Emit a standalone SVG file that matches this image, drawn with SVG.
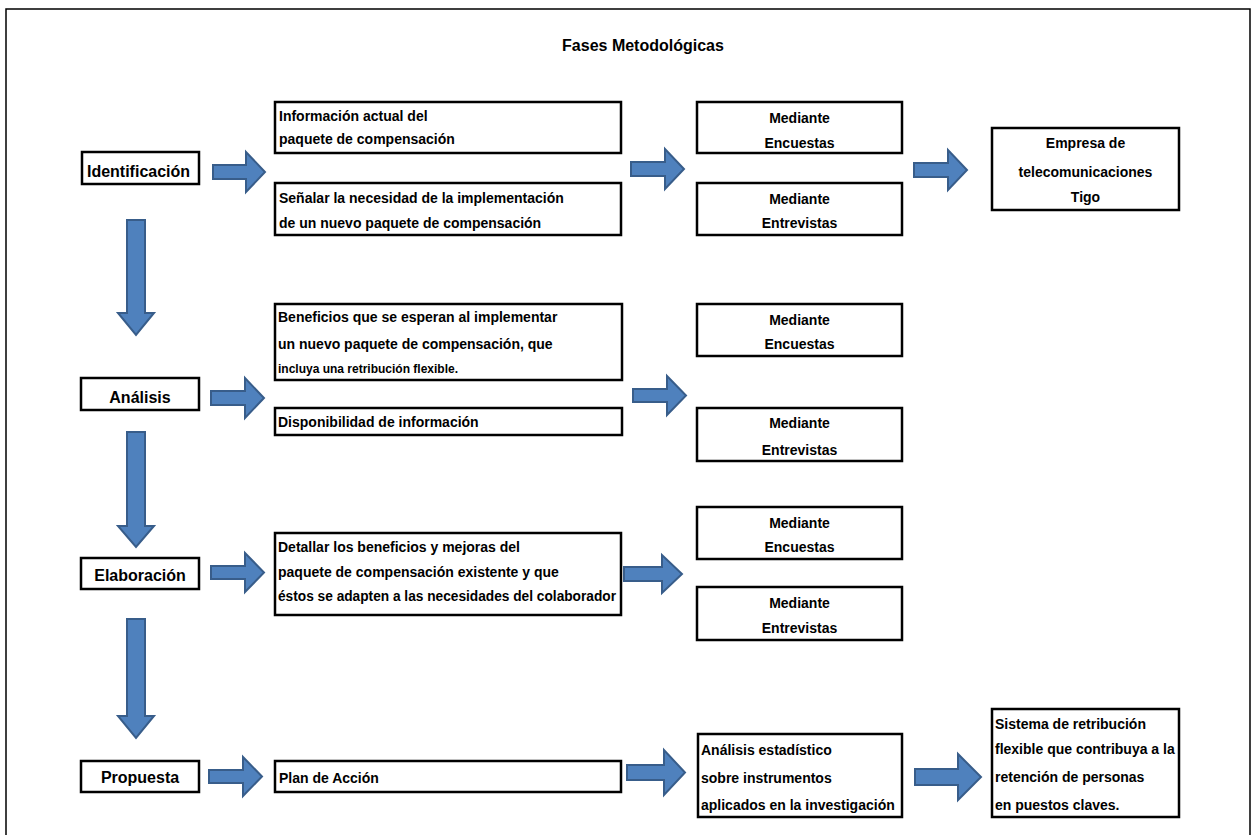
<svg xmlns="http://www.w3.org/2000/svg" width="1253" height="835" viewBox="0 0 1253 835">
<style>
.box{fill:#fff;stroke:#000;stroke-width:2.5}
.t{font-family:"Liberation Sans",Arial,sans-serif;font-weight:bold;font-size:14px;fill:#000}
.ph{font-size:16px}
.ttl{font-size:16px}
.c{text-anchor:middle}
.sm{font-size:12px}
.arr{fill:#4F81BD;stroke:#385D8A;stroke-width:2;stroke-linejoin:miter}
</style>
<rect x="0" y="0" width="1253" height="835" fill="#fff"/>
<path d="M6,845 V9 H1250 V845" fill="none" stroke="#000" stroke-width="1.5"/>
<text class="t ttl c" x="643" y="51">Fases Metodológicas</text>

<g id="connectors">
<path class="arr" d="M213,165 H246 V152 L265,172 L246,192 V179 H213 Z"/>
<path class="arr" d="M631,162 H665 V149 L684,169 L665,189 V176 H631 Z"/>
<path class="arr" d="M914,163 H948 V150 L967,170 L948,190 V177 H914 Z"/>
<path class="arr" d="M211,391 H245 V378 L264,398 L245,418 V405 H211 Z"/>
<path class="arr" d="M633,389 H667 V376 L686,395.5 L667,415 V402 H633 Z"/>
<path class="arr" d="M211,566 H245 V553 L264,572.5 L245,592 V579 H211 Z"/>
<path class="arr" d="M624,567 H662 V555 L682,574 L662,593 V581 H624 Z"/>
<path class="arr" d="M209,770 H243 V757 L262,776.5 L243,796 V783 H209 Z"/>
<path class="arr" d="M627,765 H664 V750 L685,772.5 L664,795 V780 H627 Z"/>
<path class="arr" d="M915,769 H958 V754 L981,777 L958,800 V785 H915 Z"/>
<path class="arr" d="M127,220 V313 H118 L136,335 L154,313 H145 V220 Z"/>
<path class="arr" d="M127,432 V526 H118 L136,547 L154,526 H145 V432 Z"/>
<path class="arr" d="M127,619 V716 H118 L136,738 L154,716 H145 V619 Z"/>
</g>

<g id="identificacion">
<rect class="box" x="82" y="152" width="117" height="32"/>
<text class="t ph c" x="138.5" y="177">Identificación</text>
</g>
<g id="info-actual">
<rect class="box" x="275" y="102" width="346" height="51"/>
<text class="t" x="279" y="121">Información actual del</text>
<text class="t" x="279" y="144">paquete de compensación</text>
</g>
<g id="senalar">
<rect class="box" x="275" y="183" width="346" height="52"/>
<text class="t" x="279" y="203">Señalar la necesidad de la implementación</text>
<text class="t" x="279" y="228">de un nuevo paquete de compensación</text>
</g>
<g id="encuestas-1">
<rect class="box" x="697" y="102" width="205" height="51"/>
<text class="t c" x="799.5" y="123">Mediante</text>
<text class="t c" x="799.5" y="148">Encuestas</text>
</g>
<g id="entrevistas-1">
<rect class="box" x="697" y="183" width="205" height="52"/>
<text class="t c" x="799.5" y="204">Mediante</text>
<text class="t c" x="799.5" y="228">Entrevistas</text>
</g>
<g id="empresa">
<rect class="box" x="992" y="128" width="187" height="82"/>
<text class="t c" x="1085.5" y="148">Empresa de</text>
<text class="t c" x="1085.5" y="177">telecomunicaciones</text>
<text class="t c" x="1085.5" y="202">Tigo</text>
</g>

<g id="analisis">
<rect class="box" x="81" y="378" width="118" height="32"/>
<text class="t ph c" x="140" y="403">Análisis</text>
</g>
<g id="beneficios">
<rect class="box" x="275" y="304" width="347" height="76"/>
<text class="t" x="278" y="322">Beneficios que se esperan al implementar</text>
<text class="t" x="278" y="349">un nuevo paquete de compensación, que</text>
<text class="t sm" x="278" y="373">incluya una retribución flexible.</text>
</g>
<g id="disponibilidad">
<rect class="box" x="275" y="408" width="347" height="27"/>
<text class="t" x="278" y="427">Disponibilidad de información</text>
</g>
<g id="encuestas-2">
<rect class="box" x="697" y="304" width="205" height="52"/>
<text class="t c" x="799.5" y="325">Mediante</text>
<text class="t c" x="799.5" y="349">Encuestas</text>
</g>
<g id="entrevistas-2">
<rect class="box" x="697" y="408" width="205" height="53"/>
<text class="t c" x="799.5" y="428">Mediante</text>
<text class="t c" x="799.5" y="455">Entrevistas</text>
</g>

<g id="elaboracion">
<rect class="box" x="81" y="558" width="118" height="31"/>
<text class="t ph c" x="140" y="581">Elaboración</text>
</g>
<g id="detallar">
<rect class="box" x="275" y="533" width="346" height="82"/>
<text class="t" x="278" y="552">Detallar los beneficios y mejoras del</text>
<text class="t" x="278" y="577">paquete de compensación existente y que</text>
<text class="t" x="278" y="601" textLength="338" lengthAdjust="spacingAndGlyphs">éstos se adapten a las necesidades del colaborador</text>
</g>
<g id="encuestas-3">
<rect class="box" x="697" y="507" width="205" height="52"/>
<text class="t c" x="799.5" y="528">Mediante</text>
<text class="t c" x="799.5" y="552">Encuestas</text>
</g>
<g id="entrevistas-3">
<rect class="box" x="697" y="587" width="205" height="53"/>
<text class="t c" x="799.5" y="608">Mediante</text>
<text class="t c" x="799.5" y="633">Entrevistas</text>
</g>

<g id="propuesta">
<rect class="box" x="81" y="761" width="118" height="31"/>
<text class="t ph c" x="140" y="783">Propuesta</text>
</g>
<g id="plan">
<rect class="box" x="275" y="761" width="346" height="31"/>
<text class="t" x="279" y="783">Plan de Acción</text>
</g>
<g id="analisis-estadistico">
<rect class="box" x="698" y="734" width="204" height="83"/>
<text class="t" x="701" y="755">Análisis estadístico</text>
<text class="t" x="701" y="783">sobre instrumentos</text>
<text class="t" x="701" y="810">aplicados en la investigación</text>
</g>
<g id="sistema">
<rect class="box" x="992" y="709" width="187" height="108"/>
<text class="t" x="995" y="729">Sistema de retribución</text>
<text class="t" x="995" y="754">flexible que contribuya a la</text>
<text class="t" x="995" y="782">retención de personas</text>
<text class="t" x="995" y="810">en puestos claves.</text>
</g>
</svg>
